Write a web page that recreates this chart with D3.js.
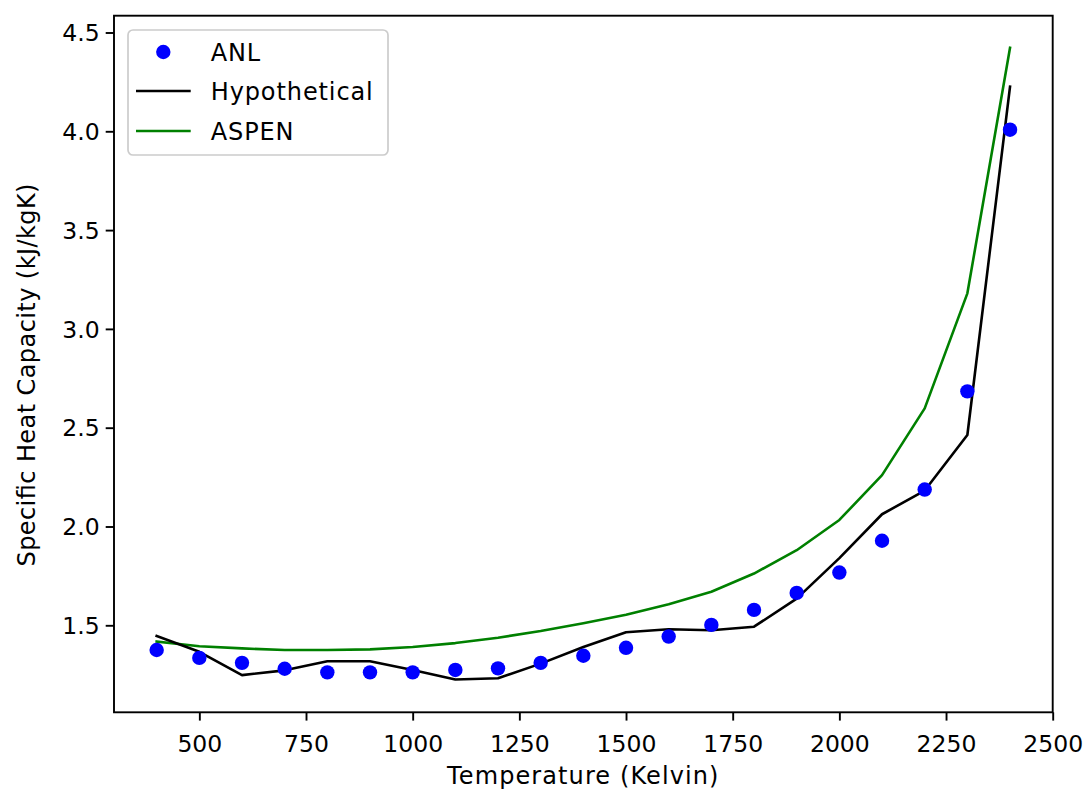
<!DOCTYPE html>
<html>
<head>
<meta charset="utf-8">
<script src="https://cdn.jsdelivr.net/npm/d3@7"></script>
<style>
  html, body { margin: 0; padding: 0; background: #fff; }
  svg { display: block; font-family: "DejaVu Sans", sans-serif; }
</style>
</head>
<body>
<svg id="chart" width="1088" height="797"></svg>
<script>
// ---- data ----
const temperatures = [400, 500, 600, 700, 800, 900, 1000, 1100, 1200, 1300, 1400, 1500, 1600, 1700, 1800, 1900, 2000, 2100, 2200, 2300, 2400];
const anl = [1.375, 1.335, 1.31, 1.28, 1.262, 1.262, 1.262, 1.274, 1.282, 1.31, 1.346, 1.386, 1.443, 1.502, 1.578, 1.664, 1.767, 1.928, 2.187, 2.684, 4.008];
const hypothetical = [1.446, 1.366, 1.248, 1.272, 1.318, 1.318, 1.274, 1.226, 1.232, 1.306, 1.39, 1.465, 1.48, 1.475, 1.493, 1.635, 1.84, 2.062, 2.182, 2.463, 4.226];
const aspen = [1.418, 1.394, 1.383, 1.375, 1.375, 1.378, 1.39, 1.41, 1.437, 1.471, 1.51, 1.553, 1.607, 1.67, 1.762, 1.88, 2.033, 2.26, 2.598, 3.18, 4.423];
const xTicks = [500, 750, 1000, 1250, 1500, 1750, 2000, 2250, 2500];
const yTicks = [1.5, 2.0, 2.5, 3.0, 3.5, 4.0, 4.5];
const seriesNames = ["ANL", "Hypothetical", "ASPEN"];
const xLabel = "Temperature (Kelvin)";
const yLabel = "Specific Heat Capacity (kJ/kgK)";

// ---- layout ----
const svg = d3.select("#chart");
const L = 114, R = 1052.7, T = 15.7, B = 712.3;
const x = d3.scaleLinear().domain([300, 2500]).range([L, R]);
const y = d3.scaleLinear().domain([1.0597, 4.585]).range([B, T]);
const fs = 23.5;
const fsLabel = 24;

// series
const line = (vals) => d3.line().x((d, i) => x(temperatures[i])).y(d => y(d))(vals);
const plot = svg.append("g");
plot.append("path").attr("d", line(aspen)).attr("fill", "none").attr("stroke", "#008000").attr("stroke-width", 2.6).attr("stroke-linejoin", "round").attr("stroke-linecap", "square");
plot.append("path").attr("d", line(hypothetical)).attr("fill", "none").attr("stroke", "#000").attr("stroke-width", 2.6).attr("stroke-linejoin", "round").attr("stroke-linecap", "square");
plot.selectAll("circle.anl").data(anl).enter().append("circle")
  .attr("class", "anl")
  .attr("cx", (d, i) => x(temperatures[i])).attr("cy", d => y(d)).attr("r", 7.2)
  .attr("fill", "#0000ff");

// frame
svg.append("rect").attr("x", L).attr("y", T).attr("width", R - L).attr("height", B - T)
  .attr("fill", "none").attr("stroke", "#000").attr("stroke-width", 1.9);

// axes
const xAxis = svg.append("g").attr("transform", `translate(0,${B})`)
  .call(d3.axisBottom(x).tickValues(xTicks).tickFormat(d3.format("d")).tickSize(8.3).tickPadding(6));
const yAxis = svg.append("g").attr("transform", `translate(${L},0)`)
  .call(d3.axisLeft(y).tickValues(yTicks).tickFormat(d3.format(".1f")).tickSize(8.3).tickPadding(6));
[xAxis, yAxis].forEach(a => {
  a.select(".domain").remove();
  a.selectAll(".tick line").attr("stroke", "#000").attr("stroke-width", 1.9);
  a.selectAll(".tick text").attr("font-size", fs).attr("fill", "#000").attr("font-family", "DejaVu Sans");
});
xAxis.selectAll(".tick text").attr("dy", null).attr("y", 39.4);
yAxis.selectAll(".tick text").attr("dy", "0.35em");

// labels
svg.append("text").attr("x", (L + R) / 2).attr("y", 784).attr("text-anchor", "middle")
  .attr("font-size", fsLabel).attr("letter-spacing", 1.1).attr("fill", "#000").text(xLabel);
svg.append("text").attr("transform", `translate(35,375) rotate(-90)`).attr("text-anchor", "middle")
  .attr("font-size", fsLabel).attr("textLength", 383).attr("lengthAdjust", "spacing")
  .attr("fill", "#000").text(yLabel);

// legend
const lg = svg.append("g");
lg.append("rect").attr("x", 128).attr("y", 30).attr("width", 260).attr("height", 125).attr("rx", 5)
  .attr("fill", "#fff").attr("fill-opacity", 0.8).attr("stroke", "#cccccc").attr("stroke-width", 1.7);
const rowsY = [52, 91, 131];
const colors = ["#0000ff", "#000", "#008000"];
seriesNames.forEach((name, i) => {
  if (i === 0) {
    lg.append("circle").attr("cx", 163.3).attr("cy", rowsY[i]).attr("r", 7.2).attr("fill", colors[i]);
  } else {
    lg.append("line").attr("x1", 136).attr("x2", 190.7).attr("y1", rowsY[i]).attr("y2", rowsY[i])
      .attr("stroke", colors[i]).attr("stroke-width", 2.6);
  }
  lg.append("text").attr("x", 210.7).attr("y", rowsY[i]).attr("dy", "0.36em")
    .attr("font-size", fsLabel).attr("letter-spacing", 0.9).attr("fill", "#000").text(name);
});
</script>
</body>
</html>
